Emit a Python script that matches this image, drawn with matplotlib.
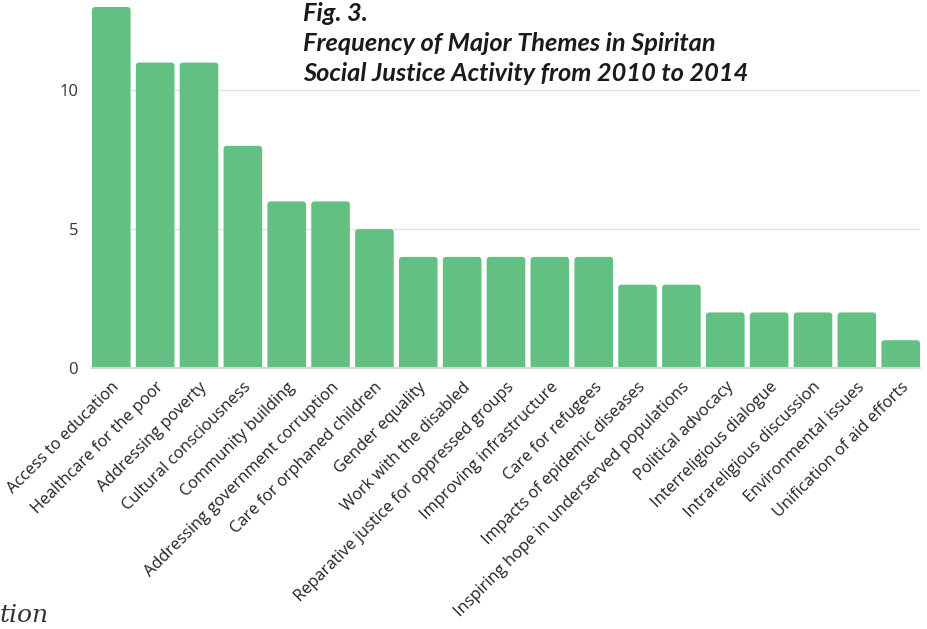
import numpy as np
import matplotlib.pyplot as plt
from matplotlib.patches import FancyBboxPatch

# theme frequencies, 2010-2014
themes = [
    "Access to education", "Healthcare for the poor", "Addressing poverty",
    "Cultural consciousness", "Community building",
    "Addressing government corruption", "Care for orphaned children",
    "Gender equality", "Work with the disabled",
    "Reparative justice for oppressed groups", "Improving infrastructure",
    "Care for refugees", "Impacts of epidemic diseases",
    "Inspiring hope in underserved populations", "Political advocacy",
    "Interreligious dialogue", "Intrareligious discussion",
    "Environmental issues", "Unification of aid efforts",
]
counts = [13, 11, 11, 8, 6, 6, 5, 4, 4, 4, 4, 4, 3, 3, 2, 2, 2, 2, 1]
yticks = [0, 5, 10]

W, H = 927, 629
fig = plt.figure(figsize=(W / 100, H / 100), dpi=100)
ax = fig.add_axes([92 / W, 1 - 368 / H, (920 - 92) / W, (368 - 7) / H])

x = np.arange(len(themes))
bars = ax.bar(x, counts, width=0.88, color="#62c083", zorder=2)

# swap the plain bars for ones with slightly rounded tops
for b in bars:
    bx, bw, bh = b.get_x(), b.get_width(), b.get_height()
    rounded = FancyBboxPatch((bx, -0.3), bw, bh + 0.3,
                             boxstyle="round,pad=0,rounding_size=0.07",
                             mutation_aspect=1.55, facecolor="#62c083",
                             edgecolor="none", zorder=2)
    ax.add_patch(rounded)
    b.set_visible(False)

ax.set_xlim(-0.44, len(themes) - 0.56)
ax.set_ylim(0, 13)
ax.set_yticks(yticks)
ax.set_yticklabels([str(v) for v in yticks], fontsize=12, color="#333333",
                   family="Open Sans")
ax.yaxis.grid(True, color="#e3e3e3", linewidth=1, zorder=0)
ax.tick_params(axis="y", length=0, pad=10)
ax.tick_params(axis="x", length=0, pad=8)
ax.set_xticks(x)
ax.set_xticklabels(themes, rotation=45, ha="right", rotation_mode="anchor",
                   fontsize=11.8, color="#222222", family="Open Sans")
for s in ["top", "right", "left"]:
    ax.spines[s].set_visible(False)
ax.spines["bottom"].set_color("#d6d6d6")
ax.spines["bottom"].set_linewidth(1.5)
ax.spines["bottom"].set_zorder(3)

fig.text(303 / W, 1 - 2 / H,
         "Fig. 3.\nFrequency of Major Themes in Spiritan\nSocial Justice Activity from 2010 to 2014",
         ha="left", va="top", fontsize=18.3, fontstyle="italic",
         fontweight="bold", family="Lato", color="#1a1a1a", linespacing=1.38)

# caption fragment at lower left
fig.text(0, 1 - 627 / H, "tion", ha="left", va="bottom", fontsize=18,
         fontstyle="italic", family="DejaVu Serif", color="#333333")

fig.savefig("out.png", dpi=100)
